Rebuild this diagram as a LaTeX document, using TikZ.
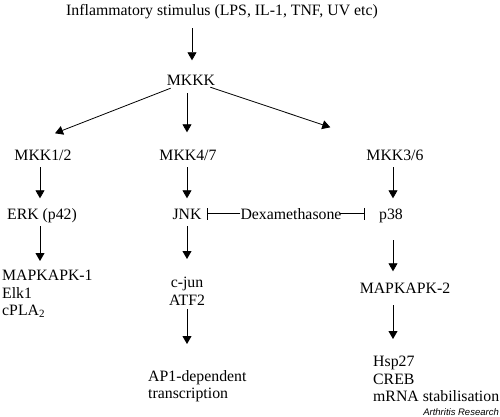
\documentclass[tikz,border=0pt]{standalone}
\usepackage{fontspec}
\setmainfont{Liberation Serif}
\newfontfamily\credfont{Liberation Sans}
\usetikzlibrary{arrows.meta}
\begin{document}
\begin{tikzpicture}[x=1pt,y=-1pt,
  lbl/.style={inner sep=0pt, text height=11.5pt, text depth=3pt, font=\fontsize{15.8}{17.5}\selectfont, anchor=base},
  blk/.style={inner sep=0pt, font=\fontsize{15.8}{17.5}\selectfont},
  arr/.style={draw, line width=0.8pt, -{Triangle[length=8pt,width=9pt]}},
  inh/.style={draw, line width=0.8pt, -{Bar[width=12pt,line width=0.8pt]}}]
\useasboundingbox (0,0) rectangle (500,417);
% nodes
\node[lbl] (title) at (222,16) {Inflammatory stimulus (LPS, IL-1, TNF, UV etc)};
\node[lbl] (mkkk) at (191,86) {MKKK};
\node[lbl] (mkk12) at (43,160) {MKK1/2};
\node[lbl] (mkk47) at (188,160) {MKK4/7};
\node[lbl] (mkk36) at (395,160) {MKK3/6};
\node[lbl] (erk) at (42,219) {ERK (p42)};
\node[lbl] (jnk) at (187,219) {JNK};
\node[lbl] (dexa) at (291,219) {Dexamethasone};
\node[lbl] (p38) at (391,219) {p38};
\node[blk, anchor=north west, align=left] (erkout) at (2,270) {MAPKAPK-1\\Elk1\\cPLA\textsubscript{2}};
\node[blk, anchor=north, align=center] (cjun) at (187,277) {c-jun\\ATF2};
\node[blk, anchor=north west, align=left] (ap1) at (148,370) {AP1-dependent\\transcription};
\node[lbl] (mapk2) at (405,293) {MAPKAPK-2};
\node[blk, anchor=north west, align=left] (hsp) at (373,356) {Hsp27\\CREB\\mRNA stabilisation};
\node[inner sep=0pt, anchor=base east, font=\credfont\itshape\fontsize{9.5}{11}\selectfont] (credit) at (499,415) {Arthritis Research};
% connectors
\draw[arr, shorten <=9pt, shorten >=14pt] ([xshift=1pt]title.south -| mkkk) -- ([xshift=1pt]mkkk.north);
\draw[arr] ([xshift=4pt,yshift=1pt]mkkk.south west) -- ([xshift=12pt,yshift=15pt]mkk12.north);
\draw[arr, shorten <=4pt, shorten >=16pt] (mkkk.south -| jnk) -- (jnk |- mkk47.north);
\draw[arr] ([xshift=-5pt,yshift=2pt]mkkk.south east) -- ([xshift=-36pt,yshift=21pt]mkk36.north west);
\draw[arr, shorten <=4pt, shorten >=9pt] ([xshift=-3pt]mkk12.south) -- ([xshift=-3pt]mkk12.south |- erk.north);
\draw[arr, shorten <=4pt, shorten >=9pt] (jnk |- mkk47.south) -- (jnk.north);
\draw[arr, shorten <=4pt, shorten >=9pt] ([xshift=-2pt]mkk36.south) -- ([xshift=-2pt]mkk36.south |- p38.north);
\draw[arr, shorten <=4pt, shorten >=9pt] ([xshift=-2pt]erk.south) -- ([xshift=-2pt]erk.south |- erkout.north);
\draw[arr, shorten <=4pt, shorten >=18pt] (jnk.south) -- (cjun.north);
\draw[arr, shorten <=18pt, shorten >=10pt] ([xshift=-2pt]mkk36.south |- p38.south) -- ([xshift=-2pt]mkk36.south |- mapk2.north);
\draw[arr, shorten <=4pt, shorten >=26pt] (cjun.south) -- (cjun.south |- ap1.north);
\draw[arr, shorten <=9pt, shorten >=17pt] ([xshift=-2pt]mkk36.south |- mapk2.south) -- ([xshift=-2pt]mkk36.south |- hsp.north);
\draw[inh, shorten >=5pt] ([yshift=1pt]dexa.west) -- ([yshift=1pt]jnk.east);
\draw[inh, shorten <=-2pt, shorten >=14pt] ([yshift=1pt]dexa.east) -- ([yshift=1pt]p38.west);
\end{tikzpicture}
\end{document}
